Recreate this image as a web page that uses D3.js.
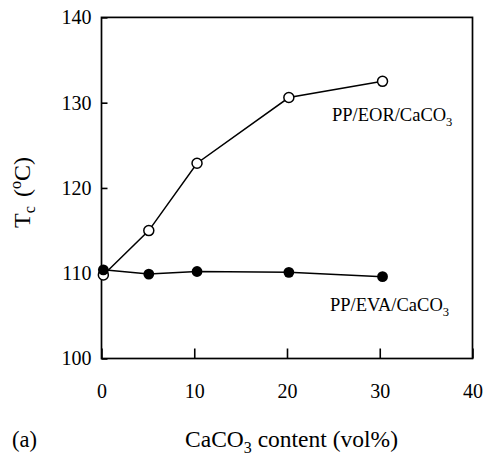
<!DOCTYPE html>
<html><head><meta charset="utf-8">
<script src="https://cdn.jsdelivr.net/npm/d3@7/dist/d3.min.js"></script>
<style>
html,body{margin:0;padding:0;background:#fff;}
svg{display:block;font-family:"Liberation Serif","Times New Roman",serif;}
</style></head>
<body><svg id="c" width="484" height="456"></svg>
<script>
// Data
const xContent = [0.2, 5.1, 10.3, 20.2, 30.3];
const tcEOR = [109.8, 115.0, 122.9, 130.6, 132.5];
const tcEVA = [110.4, 109.9, 110.2, 110.1, 109.6];
const xTicks = [0, 10, 20, 30, 40];
const yTicks = [100, 110, 120, 130, 140];
const seriesNames = ["PP/EOR/CaCO", "PP/EVA/CaCO"];

const svg = d3.select("#c");
const L = 101.5, R = 472.5, T = 17.4, B = 358.5;
const x = d3.scaleLinear().domain([0, 40]).range([L, R]);
const y = d3.scaleLinear().domain([100, 140]).range([B, T]);

// axes
const gx = svg.append("g").attr("transform", `translate(0,${B})`)
  .call(d3.axisBottom(x).tickValues(xTicks).tickSizeInner(-10).tickSizeOuter(0).tickPadding(25.5).tickFormat(d3.format("d")));
const gy = svg.append("g").attr("transform", `translate(${L},0)`)
  .call(d3.axisLeft(y).tickValues(yTicks).tickSizeInner(-6).tickSizeOuter(0).tickPadding(10).tickFormat(d3.format("d")));
[gx, gy].forEach(g => {
  g.select(".domain").remove();
  g.selectAll("line").attr("stroke", "#000").attr("stroke-width", 1.6);
  g.selectAll("text").attr("font-size", 20).attr("fill", "#000")
    .attr("font-family", '"Liberation Serif","Times New Roman",serif');
});

// frame
svg.append("rect").attr("x", L).attr("y", T).attr("width", R - L).attr("height", B - T)
  .attr("fill", "none").attr("stroke", "#000").attr("stroke-width", 1.7);

const line = d3.line().x((d, i) => x(xContent[i])).y(d => y(d));

// EOR series (open)
svg.append("path").datum(tcEOR).attr("d", line).attr("fill", "none").attr("stroke", "#000").attr("stroke-width", 1.5);
svg.selectAll(".eor").data(tcEOR).join("circle").attr("class", "eor")
  .attr("cx", (d, i) => x(xContent[i])).attr("cy", d => y(d)).attr("r", 5)
  .attr("fill", "#fff").attr("stroke", "#000").attr("stroke-width", 1.5);

// EVA series (filled)
svg.append("path").datum(tcEVA).attr("d", line).attr("fill", "none").attr("stroke", "#000").attr("stroke-width", 1.5);
svg.selectAll(".eva").data(tcEVA).join("circle").attr("class", "eva")
  .attr("cx", (d, i) => x(xContent[i])).attr("cy", d => y(d)).attr("r", 5.4)
  .attr("fill", "#000");

// series labels
function chem(t, base, sub, size) {
  t.append("tspan").text(base);
  t.append("tspan").attr("font-size", size * 0.68).attr("dy", size * 0.28).text(sub);
}
const lab1 = svg.append("text").attr("x", 332).attr("y", 120.5).attr("font-size", 18.5);
chem(lab1, seriesNames[0], "3", 18.5);
const lab2 = svg.append("text").attr("x", 330).attr("y", 311).attr("font-size", 18.5);
chem(lab2, seriesNames[1], "3", 18.5);

// x title
const xt = svg.append("text").attr("x", 291.5).attr("y", 446.5).attr("text-anchor", "middle").attr("font-size", 23.5);
xt.append("tspan").text("CaCO");
xt.append("tspan").attr("font-size", 16).attr("dy", 6).text("3");
xt.append("tspan").attr("dy", -6).text(" content (vol%)");

// panel label
svg.append("text").attr("x", 12).attr("y", 446.5).attr("font-size", 22.5).text("(a)");

// y title
const yt = svg.append("text").attr("transform", "translate(30,192.5) rotate(-90)")
  .attr("text-anchor", "middle").attr("font-size", 24);
yt.append("tspan").text("T");
yt.append("tspan").attr("font-size", 16).attr("dy", 5).text("c");
yt.append("tspan").attr("dy", -5).attr("dx", 9).text("(");
yt.append("tspan").attr("font-size", 16).attr("dy", -9).text("o");
yt.append("tspan").attr("dy", 9).text("C)");
</script></body></html>
